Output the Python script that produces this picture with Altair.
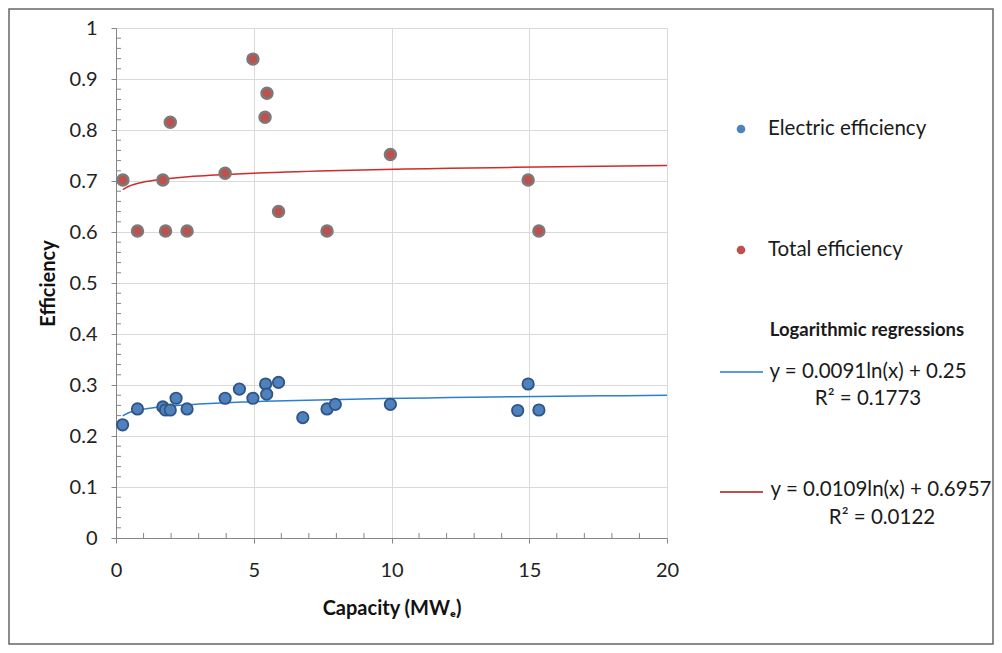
import altair as alt
import pandas as pd

# Electric efficiency (blue)
cap_elec = [0.24, 0.78, 1.70, 1.80, 1.97, 2.18, 2.58, 3.96, 4.48, 4.97,
            5.43, 5.47, 5.90, 6.78, 7.66, 7.96, 9.96, 14.58, 14.96, 15.35]
eff_elec = [0.222, 0.253, 0.257, 0.251, 0.251, 0.274, 0.253, 0.274, 0.292, 0.274,
            0.302, 0.282, 0.305, 0.236, 0.253, 0.262, 0.262, 0.250, 0.302, 0.251]

# Total efficiency (red)
cap_total = [0.25, 0.78, 1.70, 1.80, 1.97, 2.58, 3.96, 4.97, 5.41, 5.48,
             5.90, 7.66, 9.96, 14.96, 15.35]
eff_total = [0.702, 0.602, 0.702, 0.602, 0.815, 0.602, 0.715, 0.939, 0.825, 0.872,
             0.640, 0.602, 0.752, 0.702, 0.602]

x_ticks = [0, 5, 10, 15, 20]
y_ticks = [0, 0.1, 0.2, 0.3, 0.4, 0.5, 0.6, 0.7, 0.8, 0.9, 1.0]
minor_x = [1, 2, 3, 4, 6, 7, 8, 9, 11, 12, 13, 14, 16, 17, 18, 19]
minor_y = [0.02, 0.04, 0.06, 0.08, 0.12, 0.14, 0.16, 0.18, 0.22, 0.24, 0.26, 0.28,
           0.32, 0.34, 0.36, 0.38, 0.42, 0.44, 0.46, 0.48, 0.52, 0.54, 0.56, 0.58,
           0.62, 0.64, 0.66, 0.68, 0.72, 0.74, 0.76, 0.78, 0.82, 0.84, 0.86, 0.88,
           0.92, 0.94, 0.96, 0.98]

legend_series = ["Electric efficiency", "Total efficiency"]
legend_title = "Logarithmic regressions"
eq_elec = "y = 0.0091ln(x) + 0.25"
r2_elec = "R² = 0.1773"
eq_total = "y = 0.0109ln(x) + 0.6957"
r2_total = "R² = 0.0122"

FONT = "Lato"
W, H = 551, 510
PAD_L, PAD_T = 108, 20
PAD_R = 986 - PAD_L - W
PAD_B = 637 - PAD_T - H

df_e = pd.DataFrame({"cap": cap_elec, "eff": eff_elec})
df_t = pd.DataFrame({"cap": cap_total, "eff": eff_total})
one = pd.DataFrame({"k": [0]})

xs = alt.Scale(domain=[0, 20], nice=False, zero=False)
ys = alt.Scale(domain=[0, 1], nice=False, zero=False)

xaxis = alt.Axis(values=x_ticks, grid=True, gridColor="#d9d9d9", domainColor="#868686",
                 tickColor="#868686", tickSize=5, labelFont=FONT, labelFontSize=20,
                 labelColor="#222222", labelBaseline="middle", labelPadding=27,
                 labelFlush=False, labelOverlap=False,
                 title="Capacity (MWₑ)", titleFont=FONT, titleFontSize=20,
                 titleFontWeight="bold", titleColor="#111111", titleBaseline="middle",
                 titleY=70)
yaxis = alt.Axis(values=y_ticks, format=".1~f", grid=True, gridColor="#d9d9d9",
                 domainColor="#868686", tickColor="#868686", tickSize=5,
                 labelFont=FONT, labelFontSize=20, labelColor="#222222",
                 labelPadding=14, labelFlush=False, labelOverlap=False,
                 title="Efficiency", titleFont=FONT, titleFontSize=20,
                 titleFontWeight="bold", titleColor="#111111", titleAlign="center",
                 titleBaseline="middle", titleX=-68, titleY=255)

base_axes = alt.Chart(df_t).mark_point(opacity=0).encode(
    x=alt.X("cap:Q", scale=xs, axis=xaxis),
    y=alt.Y("eff:Q", scale=ys, axis=yaxis),
)

minx_df = pd.DataFrame({"v": minor_x})
miny_df = pd.DataFrame({"v": minor_y})
minor_x_layer = alt.Chart(minx_df).mark_rule(color="#868686", strokeWidth=1).encode(
    x=alt.X("v:Q", scale=xs), y=alt.value(H), y2=alt.value(H - 5))
minor_y_layer = alt.Chart(miny_df).mark_rule(color="#868686", strokeWidth=1).encode(
    y=alt.Y("v:Q", scale=ys), x=alt.value(0), x2=alt.value(5))

trend_e = alt.Chart(df_e).transform_regression(
    "cap", "eff", method="log", extent=[min(cap_elec), 20]
).mark_line(color="#2c7fcf", strokeWidth=1.5).encode(
    x=alt.X("cap:Q", scale=xs), y=alt.Y("eff:Q", scale=ys))
trend_t = alt.Chart(df_t).transform_regression(
    "cap", "eff", method="log", extent=[min(cap_total), 20]
).mark_line(color="#d12a2a", strokeWidth=1.5).encode(
    x=alt.X("cap:Q", scale=xs), y=alt.Y("eff:Q", scale=ys))

pts_e = alt.Chart(df_e).mark_point(filled=True, shape="circle", size=130,
                                   fill="#4f81bd", stroke="#2f5487", strokeWidth=1.8,
                                   opacity=1).encode(
    x=alt.X("cap:Q", scale=xs), y=alt.Y("eff:Q", scale=ys))
pts_t = alt.Chart(df_t).mark_point(filled=True, shape="circle", size=120,
                                   fill="#c0504d", stroke="#7a7a7a", strokeWidth=2.5,
                                   opacity=1).encode(
    x=alt.X("cap:Q", scale=xs), y=alt.Y("eff:Q", scale=ys))

def dot(x, y, color):
    return alt.Chart(one).mark_point(filled=True, shape="circle", size=75, color=color,
                                     opacity=1).encode(x=alt.value(x), y=alt.value(y))

def txt(s, x, y, align="left", size=20.5, weight="normal"):
    return alt.Chart(one).mark_text(text=s, font=FONT, fontSize=size, fontWeight=weight,
                                    align=align, baseline="middle", color="#1a1a1a").encode(
        x=alt.value(x), y=alt.value(y))

def seg(x1, x2, y, color):
    return alt.Chart(one).mark_rule(color=color, strokeWidth=2).encode(
        x=alt.value(x1), x2=alt.value(x2), y=alt.value(y))

border = alt.Chart(one).mark_rect(fill="transparent", stroke="#666666", strokeWidth=1.5).encode(
    x=alt.value(-PAD_L + 1), x2=alt.value(W + PAD_R - 1),
    y=alt.value(-PAD_T + 1), y2=alt.value(H + PAD_B - 1))

legend = [
    dot(625, 101, "#4f81bd"), txt(legend_series[0], 652, 101),
    dot(625, 222, "#c0504d"), txt(legend_series[1], 652, 222),
    txt(legend_title, 751, 302, align="center", size=18.5, weight="bold"),
    seg(604, 647, 344, "#5b9bd5"), txt(eq_elec, 752, 344, align="center", size=20.5),
    txt(r2_elec, 752, 371, align="center", size=20.5),
    seg(604, 647, 464, "#c0504d"), txt(eq_total, 765, 462, align="center", size=20.5),
    txt(r2_total, 766, 490, align="center", size=20.5),
]

chart = alt.layer(
    base_axes, minor_x_layer, minor_y_layer, trend_e, trend_t, pts_t, pts_e,
    border, *legend
).properties(
    width=W, height=H,
    autosize=alt.AutoSizeParams(type="none"),
    padding={"left": PAD_L, "top": PAD_T, "right": PAD_R, "bottom": PAD_B},
    background="white",
).configure_view(stroke="transparent")

chart.save("out.html", embed_options={"renderer": "svg", "actions": False})
